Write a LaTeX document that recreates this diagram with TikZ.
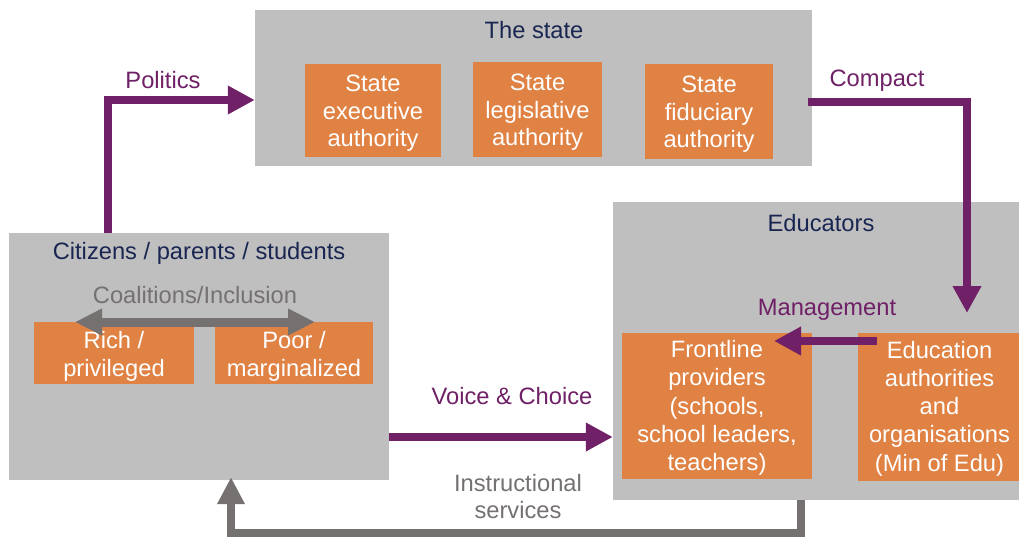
\documentclass[tikz,border=0pt]{standalone}
\usepackage{fontspec}
\setmainfont{Liberation Sans}
\usetikzlibrary{arrows.meta}
\definecolor{boxgray}{RGB}{191,191,191}
\definecolor{boxorange}{RGB}{223,130,68}
\definecolor{arrpurple}{RGB}{112,32,102}
\definecolor{arrgray}{RGB}{118,113,113}
\definecolor{titlenavy}{RGB}{26,38,82}
\tikzset{
  graybox/.style={fill=boxgray, draw=none, inner sep=0pt},
  orangebox/.style={fill=boxorange, draw=none, inner sep=0pt},
  otext/.style={text=white, inner sep=0pt, align=center, font=\fontsize{23.7}{27.6}\selectfont},
  otextb/.style={text=white, inner sep=0pt, align=center, font=\fontsize{23.7}{28.3}\selectfont},
  titletext/.style={text=titlenavy, inner sep=0pt, font=\fontsize{23.7}{27.5}\selectfont},
  purplelbl/.style={text=arrpurple, inner sep=0pt, font=\fontsize{23.7}{27.5}\selectfont},
  graylbl/.style={text=arrgray, inner sep=0pt, align=center, font=\fontsize{23.7}{27}\selectfont},
  parrow/.style={draw=arrpurple, line width=8.5pt, -{Triangle[length=27pt,width=27pt]}},
  garrow/.style={draw=arrgray, line width=8.5pt, -{Triangle[length=27pt,width=26pt]}},
  gdarrow/.style={draw=arrgray, line width=9pt, {Triangle[length=27pt,width=25pt]}-{Triangle[length=27pt,width=25pt]}},
}
\begin{document}
\begin{tikzpicture}[x=1pt,y=-1pt]
\useasboundingbox (0,0) rectangle (1019,538);
\fill[white] (0,0) rectangle (1019,538);
% gray containers
\node[graybox, minimum width=557pt, minimum height=156pt] (state) at (533.5,88) {};
\node[graybox, minimum width=380pt, minimum height=247pt] (cit) at (199,356.5) {};
\node[graybox, minimum width=406pt, minimum height=298pt] (educ) at (816,351) {};
% titles
\node[titletext] (statetitle) at (534,30) {The state};
\node[titletext] (cittitle) at (199,253) {Citizens / parents / students};
\node[titletext] (eductitle) at (821,223) {Educators};
% orange boxes
\node[orangebox, minimum width=136pt, minimum height=93pt] (exec) at (373,110.5) {};
\node[orangebox, minimum width=129pt, minimum height=95pt] (legis) at (537.5,109.5) {};
\node[orangebox, minimum width=128pt, minimum height=95pt] (fid) at (709,111.5) {};
\node[orangebox, minimum width=160pt, minimum height=62pt] (rich) at (114,353) {};
\node[orangebox, minimum width=158pt, minimum height=62pt] (poor) at (294,353) {};
\node[orangebox, minimum width=190pt, minimum height=146pt] (front) at (717,406) {};
\node[orangebox, minimum width=161pt, minimum height=148pt] (edu) at (938.5,407) {};
% orange box texts
\node[otext] (exectxt) at ([yshift=-3pt]exec.center) {State\\executive\\authority};
\node[otext] (legistxt) at ([yshift=-3pt]legis.center) {State\\legislative\\authority};
\node[otext] (fidtxt) at ([yshift=-3pt]fid.center) {State\\fiduciary\\authority};
\node[otext] (richtxt) at ([yshift=-3.5pt]rich.center) {Rich /\\privileged};
\node[otext] (poortxt) at ([yshift=-3.5pt]poor.center) {Poor /\\marginalized};
\node[otextb] (fronttxt) at ([yshift=-2pt]front.center) {Frontline\\providers\\(schools,\\school leaders,\\teachers)};
\node[otextb] (edutxt) at ([xshift=1pt,yshift=-1.5pt]edu.center) {Education\\authorities\\and\\organisations\\(Min of Edu)};
% helper coordinates
\coordinate (polrow) at (108,100);
\coordinate (comprow) at (967,102);
\coordinate (compend) at (967,313);
\coordinate (mgstart) at (877,341);
\coordinate (mgend) at (774,341);
\coordinate (vcrow) at (0,437);
\coordinate (isdown) at (801,533);
\coordinate (isup) at (231,533);
\coordinate (coalL) at (75,322);
\coordinate (coalR) at (315,322);
% connectors
\draw[parrow] (cit.north -| polrow) |- (state.west |- polrow);
\draw[parrow] ([xshift=-4pt]state.east |- comprow) -| (compend);
\draw[parrow] (mgstart) -- (mgend);
\draw[parrow] (cit.east |- vcrow) -- (educ.west |- vcrow);
\draw[garrow] (educ.south -| isdown) -- (isdown) -- (isup) -- ([yshift=3pt]cit.south -| isup);
\draw[gdarrow] (coalL) -- (coalR);
% labels
\node[purplelbl] (pollbl) at (163,80) {Politics};
\node[purplelbl] (complbl) at (877,81) {Compact};
\node[purplelbl] (mglbl) at (827,310) {Management};
\node[purplelbl] (vclbl) at (512,396) {Voice \& Choice};
\node[graylbl] (islbl) at (518,497) {Instructional\\services};
\node[graylbl] (coallbl) at (195,295) {Coalitions/Inclusion};
\end{tikzpicture}
\end{document}
